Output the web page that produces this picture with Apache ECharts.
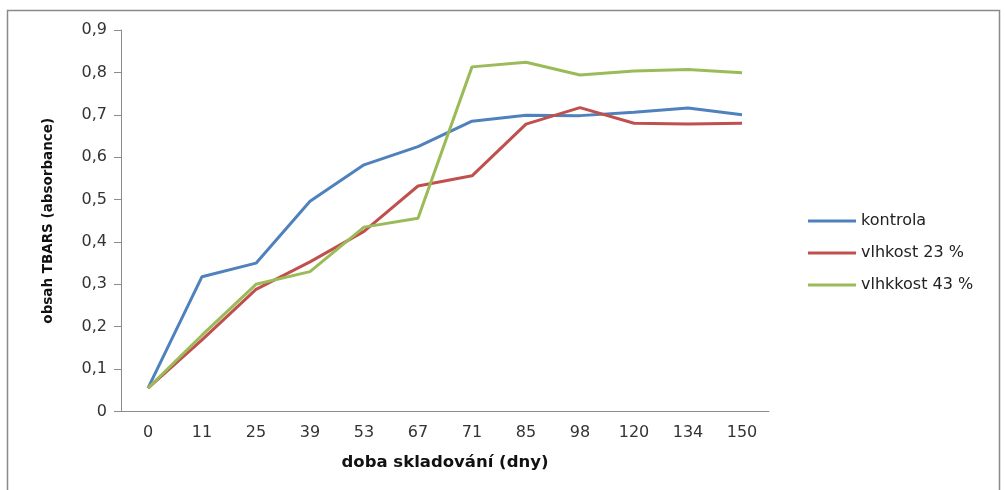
<!DOCTYPE html>
<html><head><meta charset="utf-8">
<script src="https://cdn.jsdelivr.net/npm/echarts@6/dist/echarts.min.js"></script>
<style>html,body{margin:0;padding:0;background:#fff}#c{width:1005px;height:490px}</style>
</head><body><div id="c"></div>
<script>
const categories = ['0','11','25','39','53','67','71','85','98','120','134','150'];
const kontrola = [0.055,0.318,0.350,0.496,0.582,0.625,0.685,0.699,0.698,0.706,0.716,0.700];
const vlhkost23 = [0.055,0.169,0.288,0.353,0.425,0.532,0.556,0.678,0.717,0.680,0.678,0.680];
const vlhkost43 = [0.055,0.180,0.300,0.330,0.435,0.456,0.813,0.824,0.794,0.803,0.807,0.799];
const seriesNames = ['kontrola','vlhkost 23 %','vlhkkost 43 %'];
const colors = ['#4F81BD','#C0504D','#9BBB59'];

const chart = echarts.init(document.getElementById('c'), null, {renderer:'canvas'});
const labelFont = {fontFamily:'DejaVu Sans', fontSize:16, color:'#333'};
chart.setOption({
  animation:false,
  backgroundColor:'#fff',
  graphic:[{type:'rect', shape:{x:7.5,y:10.5,width:992,height:485}, style:{fill:'none', stroke:'#8a8a8a', lineWidth:1.5}, silent:true}],
  grid:{left:121, right:236, top:30, bottom:78.5},
  legend:{
    orient:'vertical', left:803, top:208, itemWidth:48, itemHeight:3, itemGap:16, icon:'rect',
    textStyle:{fontFamily:'DejaVu Sans', fontSize:16, lineHeight:16, color:'#222'},
    data:seriesNames
  },
  xAxis:{
    type:'category', data:categories, boundaryGap:true,
    axisLine:{lineStyle:{color:'#8c8c8c', width:1}},
    axisTick:{show:false},
    axisLabel:Object.assign({margin:13}, labelFont),
    name:'doba skladování (dny)', nameLocation:'middle', nameGap:43,
    nameTextStyle:{fontFamily:'DejaVu Sans', fontWeight:'bold', fontSize:16.5, color:'#111'}
  },
  yAxis:{
    type:'value', min:0, max:0.9, interval:0.1,
    axisLine:{show:true, lineStyle:{color:'#8c8c8c', width:1}},
    axisTick:{show:true, length:7, lineStyle:{color:'#8c8c8c'}},
    splitLine:{show:false},
    axisLabel:Object.assign({margin:14, formatter:v=>String(Math.round(v*10)/10).replace('.',',')}, labelFont),
    name:'obsah TBARS (absorbance)', nameLocation:'middle', nameRotate:90, nameGap:66,
    nameTextStyle:{fontFamily:'DejaVu Sans', fontWeight:'bold', fontSize:13.5, color:'#111'}
  },
  series:[kontrola, vlhkost23, vlhkost43].map((d,i)=>({
    name:seriesNames[i], type:'line', data:d, symbol:'none',
    lineStyle:{color:colors[i], width:3}, itemStyle:{color:colors[i]}
  }))
});
</script></body></html>
